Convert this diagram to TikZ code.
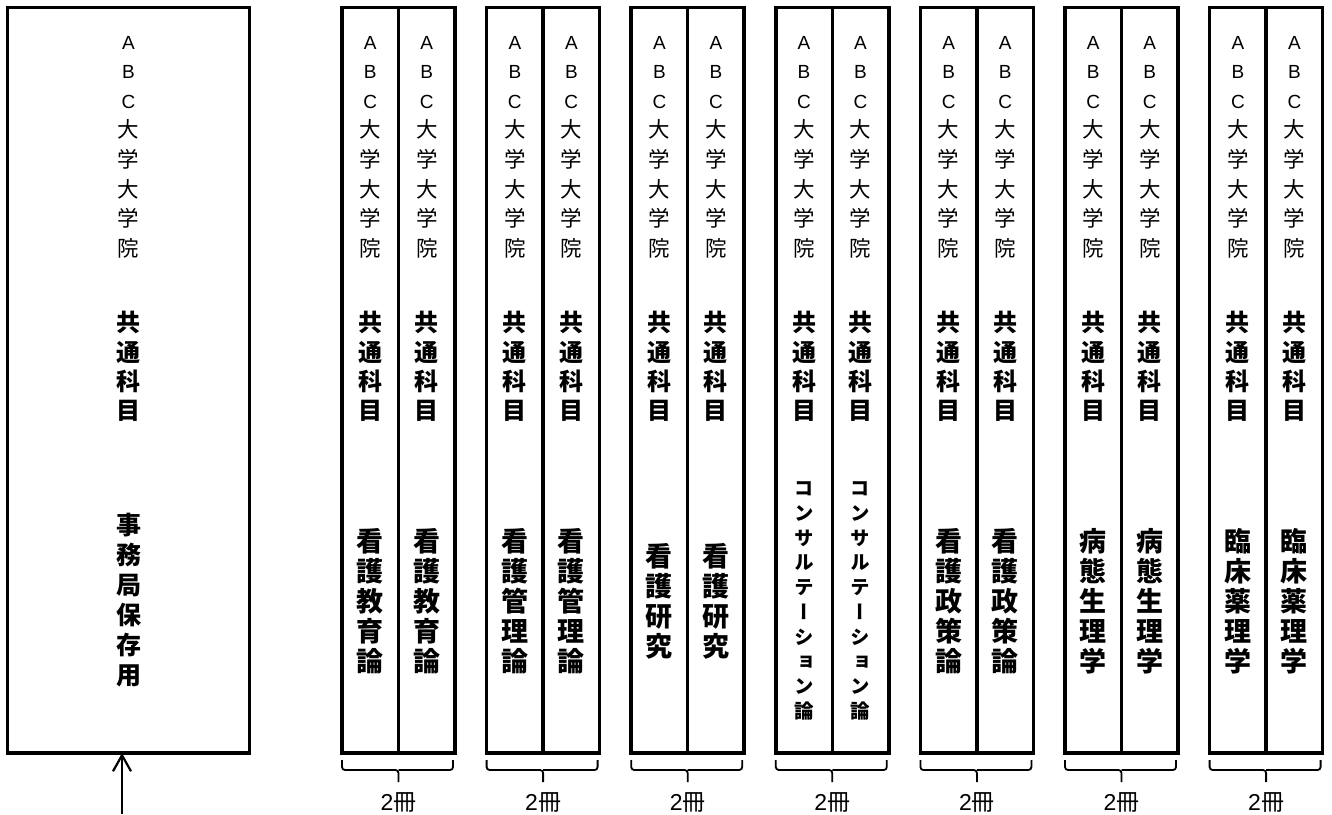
\documentclass[tikz,border=0pt]{standalone}
\usepackage{fontspec}
\setmainfont{Noto Sans CJK JP}
\newfontfamily\jpvert[RawFeature=+vert]{Noto Sans CJK JP}
\newfontfamily\lat{Liberation Sans}
\usetikzlibrary{arrows.meta}

\newcommand\univname{{\lat\fontsize{19}{29.6}\selectfont A}\\{\lat\fontsize{19}{29.6}\selectfont B}\\{\lat\fontsize{19}{29.6}\selectfont C}\\大\\学\\大\\学\\院}

\begin{document}
\begin{tikzpicture}[x=1pt, y=-1pt,
    frame/.style={draw, line width=3.5pt, inner sep=0pt, outer sep=0pt,
                  minimum height=745.5pt},
    uni/.style={align=center, inner sep=0pt, font=\fontsize{21.5}{29.6}\selectfont},
    subj/.style={align=center, inner sep=0pt, font=\bfseries\fontsize{24}{29.2}\selectfont},
    title/.style={align=center, inner sep=0pt, font=\bfseries\fontsize{27}{30}\selectfont},
    longtitle/.style={align=center, inner sep=0pt, font=\jpvert\bfseries\fontsize{19.5}{24.8}\selectfont},
    brace/.style={line width=1.8pt, rounded corners=3pt},
    count/.style={inner sep=0pt, font=\fontsize{23}{23}\selectfont},
    arr/.style={-{Straight Barb[length=16pt, width=18pt]}, line width=2.2pt}
]
\useasboundingbox (0,0) rectangle (1332,814);

% office copy
\node[frame, minimum width=242pt] (hold) at (128.5,380.25) {};
\node[uni] (holduni) at (128.5,147) {\univname};
\node[subj] (holdsubj) at (128.5,366.5) {共\\通\\科\\目};
\node[subj, font=\bfseries\fontsize{25}{30}\selectfont] (holdnote) at (128.5,600) {事\\務\\局\\保\\存\\用};
\coordinate (src) at (122,814);
\draw[arr] (src) -- (src |- hold.south);

% spine pairs
\foreach \t/\s [count=\k from 0] in {{看\\護\\教\\育\\論}/title, {看\\護\\管\\理\\論}/title,
    {看\\護\\研\\究}/title, {コ\\ン\\サ\\ル\\テ\\ー\\シ\\ョ\\ン\\論}/longtitle,
    {看\\護\\政\\策\\論}/title, {病\\態\\生\\理\\学}/title, {臨\\床\\薬\\理\\学}/title}{
  \pgfmathsetmacro{\xl}{342+144.6*\k}
  \node[frame, minimum width=56.5pt] (a\k) at (\xl+28.25,380.25) {};
  \node[frame, minimum width=56.5pt] (b\k) at (\xl+84.75,380.25) {};
  \foreach \v in {a,b}{
    \node[uni] (\v uni\k) at (\v\k.center |- 0,147) {\univname};
    \node[subj] (\v subj\k) at (\v\k.center |- 0,366.5) {共\\通\\科\\目};
    \node[\s] (\v title\k) at (\v\k.center |- 0,601) {\t};
  }
  \draw[brace] ([yshift=-7pt]a\k.south west) |- ([yshift=-17pt]a\k.south east)
    -- ([yshift=-29pt]a\k.south east);
  \draw[brace] ([yshift=-7pt,xshift=-2pt]b\k.south east) |- ([yshift=-17pt]b\k.south west);
  \node[count] (n\k) at ([yshift=-49pt]a\k.south east) {{\lat 2}冊};
}
\end{tikzpicture}
\end{document}
